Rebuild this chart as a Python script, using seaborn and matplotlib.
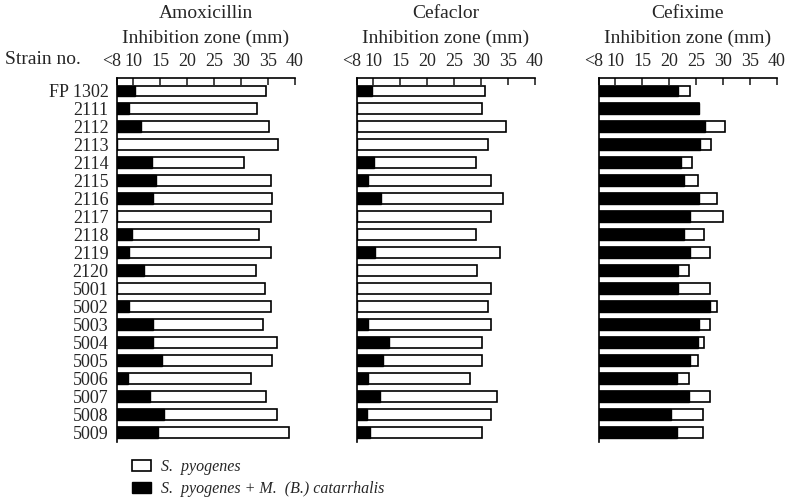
import numpy as np
import pandas as pd
import matplotlib
matplotlib.use('Agg')
import matplotlib.pyplot as plt
from matplotlib.patches import Patch
import seaborn as sns

# strain numbers, top to bottom
strains = ['FP 1302', '2111', '2112', '2113', '2114', '2115', '2116', '2117', '2118', '2119',
           '2120', '5001', '5002', '5003', '5004', '5005', '5006', '5007', '5008', '5009']

# inhibition zone (mm), 7 = "<8"
# S. pyogenes alone (white bars)
amox_pyo = [34.7, 33.0, 35.2, 36.8, 30.5, 35.5, 35.7, 35.5, 33.4, 35.5,
            32.7, 34.4, 35.5, 34.0, 36.7, 35.7, 31.8, 34.6, 36.7, 38.9]
cefa_pyo = [30.7, 30.2, 34.6, 31.3, 29.1, 31.8, 34.1, 31.8, 29.0, 33.6,
            29.2, 31.8, 31.3, 31.8, 30.1, 30.2, 27.9, 33.0, 31.8, 30.2]
cefi_pyo = [23.9, 25.5, 30.4, 27.8, 24.3, 25.4, 28.8, 29.9, 26.4, 27.5,
            23.6, 27.6, 28.8, 27.6, 26.4, 25.3, 23.6, 27.5, 26.2, 26.2]
# S. pyogenes + M. (B.) catarrhalis (black bars)
amox_mix = [10.3, 9.3, 11.4, 7.0, 13.5, 14.2, 13.7, 7.0, 9.7, 9.3,
            12.0, 7.0, 9.2, 13.6, 13.6, 15.4, 9.1, 13.1, 15.8, 14.6]
cefa_mix = [9.7, 7.0, 7.0, 7.0, 10.2, 9.1, 11.4, 7.0, 7.0, 10.4,
            7.0, 7.0, 7.0, 9.1, 13.0, 11.9, 9.1, 11.2, 8.9, 9.5]
cefi_mix = [21.7, 25.5, 26.7, 25.7, 22.2, 22.7, 25.6, 23.9, 22.7, 23.9,
            21.7, 21.7, 27.6, 25.5, 25.4, 23.8, 21.5, 23.6, 20.4, 21.5]

drugs = ['Amoxicillin', 'Cefaclor', 'Cefixime']
tick_vals = [7, 10, 15, 20, 25, 30, 35, 40]
tick_labels = ['<8', '10', '15', '20', '25', '30', '35', '40']

sns.set_style('white')
plt.rcParams['font.family'] = ['Liberation Serif', 'DejaVu Serif']

fig = plt.figure(figsize=(7.89, 4.98), dpi=100)

lefts = [117 / 789, 357 / 789, 599 / 789]
w = 178 / 789
bottom = 1 - 442 / 498
h = 364 / 498

pyo_all = [amox_pyo, cefa_pyo, cefi_pyo]
mix_all = [amox_mix, cefa_mix, cefi_mix]

for i, drug in enumerate(drugs):
    ax = fig.add_axes([lefts[i], bottom, w, h])
    df = pd.DataFrame({'strain': strains, 'pyo': pyo_all[i], 'mix': mix_all[i]})
    sns.barplot(data=df, x='pyo', y='strain', color='white', edgecolor='black',
                linewidth=1.2, width=0.6, saturation=1, ax=ax)
    sns.barplot(data=df, x='mix', y='strain', color='black', edgecolor='black',
                linewidth=1.0, width=0.6, saturation=1, ax=ax)
    ax.set_xlim(7, 40)
    ax.set_ylim(19.55, -0.72)
    ax.xaxis.tick_top()
    ax.set_xticks(tick_vals)
    # first label drawn by hand, shifted left of its tick
    ax.set_xticklabels([''] + tick_labels[1:], fontsize=13)
    ax.annotate(tick_labels[0], xy=(tick_vals[0], 1), xycoords=('data', 'axes fraction'),
                xytext=(3, 6), textcoords='offset points', ha='right', va='bottom',
                fontsize=13)
    ax.tick_params(axis='x', direction='in', length=5, width=1.2, pad=6, top=True, bottom=False)
    ax.tick_params(axis='y', length=0, pad=6)
    ax.set_xlabel('')
    ax.set_ylabel('')
    for s in ['right', 'bottom']:
        ax.spines[s].set_visible(False)
    for s in ['top', 'left']:
        ax.spines[s].set_color('black')
        ax.spines[s].set_linewidth(1.2)
    if i == 0:
        ax.set_yticklabels(strains, fontsize=13)
    else:
        ax.set_yticklabels([])
    cx = lefts[i] + w / 2
    fig.text(cx, 1 - 14 / 498, drug, ha='center', va='center', fontsize=14)
    fig.text(cx, 1 - 38 / 498, 'Inhibition zone (mm)', ha='center', va='center', fontsize=14)

fig.text(5 / 789, 1 - 60 / 498, 'Strain no.', ha='left', va='center', fontsize=14)

handles = [Patch(facecolor='white', edgecolor='black', linewidth=1.2),
           Patch(facecolor='black', edgecolor='black')]
labels = ['S.  pyogenes', 'S.  pyogenes + M.  (B.) catarrhalis']
fig.legend(handles, labels, loc='upper left', bbox_to_anchor=(129 / 789, 1 - 456 / 498),
           frameon=False, prop={'style': 'italic', 'size': 11.5}, handlelength=1.2,
           handleheight=0.7, labelspacing=0.35, handletextpad=0.6,
           borderaxespad=0, borderpad=0.2)

fig.savefig('out.png', dpi=100)
